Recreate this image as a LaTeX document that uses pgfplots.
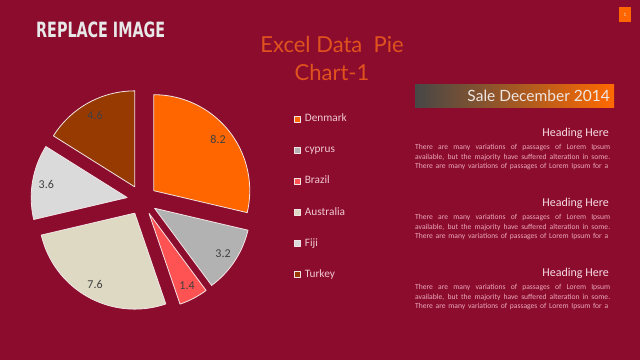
\documentclass[border=0pt]{standalone}
\usepackage{pgfplots}
\pgfplotsset{compat=1.18}
\usepackage{fontspec}
\setmainfont{Carlito}
\newfontfamily\titlefont{Lato}
\newfontfamily\condfont{DejaVu Sans Condensed}
\definecolor{bg}{HTML}{8C0C2D}
\definecolor{cDen}{HTML}{FF6600}
\definecolor{cCyp}{HTML}{B2B2B2}
\definecolor{cBra}{HTML}{FF5353}
\definecolor{cAus}{HTML}{DDD9C3}
\definecolor{cFij}{HTML}{DADADA}
\definecolor{cTur}{HTML}{973A02}
\definecolor{pieedge}{HTML}{F2E4E6}
\definecolor{labgray}{HTML}{404040}
\definecolor{legtext}{HTML}{F0C8D2}
\definecolor{headtext}{HTML}{F6DCE4}
\definecolor{bodytext}{HTML}{E9A8BB}
\definecolor{titleor}{HTML}{E0521E}
\definecolor{gradL}{HTML}{474747}
\definecolor{gradR}{HTML}{FF6A00}
\definecolor{saletext}{HTML}{EEE6E2}
\definecolor{repl}{HTML}{E8E8E8}
\tikzset{pielabel/.style={font=\fontsize{12}{14}\selectfont, text=labgray, anchor=center, inner sep=0pt}}
% pie slice: colour, sum of the values before it, value
\newcommand\slice[3]{%
 \pgfmathsetmacro\sa{90-360*(#2)/28.6}%
 \pgfmathsetmacro\sb{90-360*(#2+#3)/28.6}%
 \pgfmathsetmacro\sm{((\sa)+(\sb))/2}%
 \pgfmathsetmacro\ox{142+15*cos(\sm)}%
 \pgfmathsetmacro\oy{160+15*sin(\sm)}%
 \pgfmathsetmacro\lx{\ox+82*cos(\sm)}%
 \pgfmathsetmacro\ly{\oy+82*sin(\sm)}%
 \edef\doit{%
  \noexpand\addplot[fill=#1, draw=pieedge, line width=0.8pt, line join=round, samples at={-1,0,1,...,40,41}, variable=\noexpand\t]
   ({\ox+((\noexpand\t>=0)*(\noexpand\t<=40))*96*cos((\sa)+((\sb)-(\sa))*min(max(\noexpand\t,0),40)/40)},
    {\oy+((\noexpand\t>=0)*(\noexpand\t<=40))*96*sin((\sa)+((\sb)-(\sa))*min(max(\noexpand\t,0),40)/40)});
  \noexpand\node[pielabel] at (axis cs:\lx,\ly) {#3};
 }%
 \doit
}
\begin{document}
\begin{tikzpicture}[x=1pt,y=1pt]
\fill[bg] (0,0) rectangle (640,360);
\begin{axis}[at={(0,0)}, anchor=south west, scale only axis, width=640pt, height=360pt,
  xmin=0, xmax=640, ymin=0, ymax=360, hide axis, clip=false,
  legend entries={Denmark,cyprus,Brazil,Australia,Fiji,Turkey},
  legend cell align=left,
  legend image code/.code={\draw[#1, line width=0.6pt] (0pt,-3pt) rectangle (6pt,3pt);},
  legend style={at={(0.4594,0.6833)}, anchor=north west, draw=none, fill=none, inner sep=0pt,
    font=\fontsize{11.3}{13}\selectfont,
    nodes={inner sep=0pt, text=legtext, text height=7.5pt, text depth=2pt},
    row sep=21.6pt,
    /tikz/every odd column/.append style={column sep=4pt}},
]
\slice{cDen}{0}{8.2}
\slice{cCyp}{8.2}{3.2}
\slice{cBra}{8.2+3.2}{1.4}
\slice{cAus}{8.2+3.2+1.4}{7.6}
\slice{cFij}{8.2+3.2+1.4+7.6}{3.6}
\slice{cTur}{8.2+3.2+1.4+7.6+3.6}{4.6}
\end{axis}
% texts
\node[anchor=base west, inner sep=0pt, text=repl] at (36,322.7)
  {\resizebox{129pt}{15.6pt}{\condfont\bfseries REPLACE IMAGE}};
\node[anchor=base, inner sep=0pt, text=titleor, font=\titlefont\fontsize{22}{26}\selectfont] at (332,308) {Excel Data\ \ Pie};
\node[anchor=base, inner sep=0pt, text=titleor, font=\titlefont\fontsize{22}{26}\selectfont] at (332,280) {Chart-1};
\shade[left color=gradL, right color=gradR] (415,253) rectangle (614,276);
\node[anchor=base east, inner sep=0pt, text=saletext, font=\titlefont\fontsize{15.5}{18}\selectfont] at (610,259) {Sale December 2014};
\foreach \dy in {0,70,140}{
  \node[anchor=base east, inner sep=0pt, text=headtext, font=\fontsize{12}{14}\selectfont] at (609,224-\dy) {Heading Here};
  \node[anchor=base west, inner sep=0pt, text=bodytext, font=\fontsize{7.6}{9}\selectfont] at (415,210.5-\dy)
    {\makebox[195pt][s]{There are many variations of passages of Lorem Ipsum}};
  \node[anchor=base west, inner sep=0pt, text=bodytext, font=\fontsize{7.6}{9}\selectfont] at (415,201-\dy)
    {\makebox[195pt][s]{available, but the majority have suffered alteration in some.}};
  \node[anchor=base west, inner sep=0pt, text=bodytext, font=\fontsize{7.6}{9}\selectfont] at (415,191.5-\dy)
    {\makebox[193pt][s]{There are many variations of passages of Lorem Ipsum for a}};
}
\fill[cDen] (619,338) rectangle (631,353);
\node[inner sep=0pt, text=saletext, font=\fontsize{5}{6}\selectfont] at (625,345.5) {1};
\end{tikzpicture}
\end{document}
